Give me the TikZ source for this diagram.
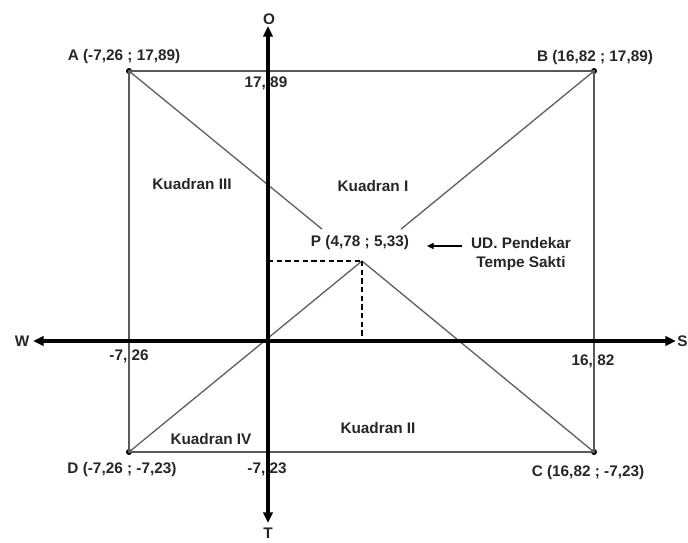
\documentclass[tikz,border=0pt]{standalone}
\usepackage{fontspec}
\setmainfont{Liberation Sans}
\usetikzlibrary{arrows.meta,calc}
\begin{document}
\begin{tikzpicture}[x=0.75pt,y=-0.75pt,
  lbl/.style={font=\fontsize{11.5}{13}\selectfont\bfseries, text=black!85, inner sep=0pt},
  axis/.style={line width=2.3pt, draw=black},
  frame/.style={line width=1.1pt, draw=black!65},
  diag/.style={line width=1pt, draw=black!62},
  guide/.style={line width=1.3pt, dash pattern=on 4pt off 2.5pt},
  pt/.style={circle, fill=black, inner sep=0pt, minimum size=4.5pt},
  pointer/.style={line width=1.2pt, -{Triangle[length=5pt,width=4.5pt]}}]
\useasboundingbox (0,0) rectangle (688,542);
% corners and P
\node[pt] (A) at (129,71) {};
\node[pt] (B) at (594,71) {};
\node[pt] (C) at (594,452) {};
\node[pt] (D) at (129,452) {};
\coordinate (P) at (362,261);
\coordinate (Py) at (268,261);
\coordinate (Px) at (362,341);
% axes end points
\coordinate (Otop) at (268,26);
\coordinate (Tbot) at (268,523);
\coordinate (Wl) at (33,341);
\coordinate (Sr) at (676,341);
% frame
\draw[frame] (A.center) -- (B.center) -- (C.center) -- (D.center) -- cycle;
% diagonals (interrupted by label P)
\draw[diag] (A.center) -- ($(A.center)!0.415!(C.center)$);
\draw[diag] (P) -- (C.center);
\draw[diag] (B.center) -- ($(B.center)!0.415!(D.center)$);
\draw[diag] (P) -- (D.center);
% dashed guides
\draw[guide] (Py) -- (P);
\draw[guide] (P) -- (Px);
% axes
\draw[axis,{Triangle[length=8pt,width=7pt]}-{Triangle[length=8pt,width=7pt]}] (Tbot) -- (Otop);
\draw[axis,{Triangle[length=8pt,width=7pt]}-{Triangle[length=8pt,width=7pt]}] (Wl) -- (Sr);
% axis letters
\node[lbl] (lO) at (269,19) {O};
\node[lbl] (lT) at (268,533) {T};
\node[lbl] (lW) at (22,341) {W};
\node[lbl] (lS) at (682.5,341) {S};
% corner labels
\node[lbl] (lA) at (124,57) {A (-7,26 ; 17,89)};
\node[lbl] (lB) at (595,58) {B (16,82 ; 17,89)};
\node[lbl] (lC) at (588,473) {C (16,82 ; -7,23)};
\node[lbl] (lD) at (122,470) {D (-7,26 ; -7,23)};
% axis values
\node[lbl] (v1) at (266,83) {17, 89};
\node[lbl] (v2) at (129,356) {-7, 26};
\node[lbl] (v3) at (593,361) {16, 82};
\node[lbl] (v4) at (267,469) {-7, 23};
% quadrants
\node[lbl] (q3) at (192,184) {Kuadran III};
\node[lbl] (q1) at (373,186) {Kuadran I};
\node[lbl] (q4) at (211,439) {Kuadran IV};
\node[lbl] (q2) at (378,428) {Kuadran II};
% P label and pointer
\node[lbl] (lP) at (360,243) {P (4,78 ; 5,33)};
\node[lbl, align=center] (ud) at (521,254) {UD. Pendekar\\[1pt]Tempe Sakti};
\coordinate (arrS) at (462,246);
\coordinate (arrE) at (427,246);
\draw[pointer] (arrS) -- (arrE);
\end{tikzpicture}
\end{document}
